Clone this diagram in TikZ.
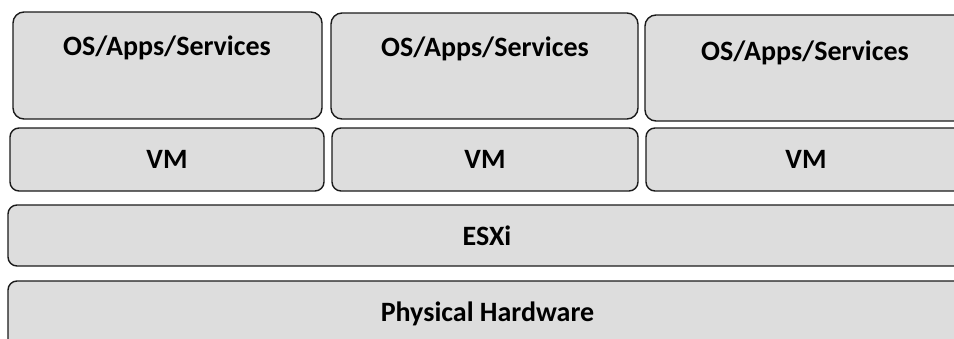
\documentclass[tikz,border=0pt]{standalone}
\usepackage{fontspec}
\setmainfont{Carlito}
\definecolor{layergray}{HTML}{DDDDDD}
\definecolor{layerline}{HTML}{1A1A1A}

\begin{document}
\begin{tikzpicture}[x=1pt,y=-1pt,
    layer/.style={draw=layerline,fill=layergray,line width=1.4pt,rounded corners=11pt,inner sep=0pt},
    lbl/.style={anchor=base,inner sep=0pt,font=\bfseries\fontsize{28}{32}\selectfont}]
      \useasboundingbox (0,0) rectangle (954,338);
      \clip (0,0) rectangle (954,338);

      % guest layer
      \node[layer,minimum width=309pt,minimum height=107pt](osA) at (167.5,65.5) {};
      \node[layer,minimum width=307pt,minimum height=106pt](osB) at (484.5,66) {};
      \node[layer,minimum width=320pt,minimum height=106pt](osC) at (805,68) {};
      \node[lbl](osAtext) at (167,55) {OS/Apps/Services};
      \node[lbl](osBtext) at (485,56) {OS/Apps/Services};
      \node[lbl](osCtext) at (805,60) {OS/Apps/Services};

      % virtual machines
      \node[layer,rounded corners=9pt,minimum width=314pt,minimum height=63pt](vmA) at (167,159.5) {};
      \node[layer,rounded corners=9pt,minimum width=306pt,minimum height=63pt](vmB) at (485,159.5) {};
      \node[layer,rounded corners=9pt,minimum width=320pt,minimum height=63pt](vmC) at (806,159.5) {};
      \node[lbl](vmAtext) at (167,168) {VM};
      \node[lbl](vmBtext) at (485,168) {VM};
      \node[lbl](vmCtext) at (806,168) {VM};

      % hypervisor and hardware
      \node[layer,rounded corners=9pt,minimum width=960pt,minimum height=61pt](esxi) at (488,235.5) {};
      \node[lbl](esxitext) at (487,245) {ESXi};
      \node[layer,rounded corners=9pt,minimum width=960pt,minimum height=70pt](hw) at (488,316) {};
      \node[lbl](hwtext) at (487.5,321) {Physical Hardware};
    \end{tikzpicture}
\end{document}
